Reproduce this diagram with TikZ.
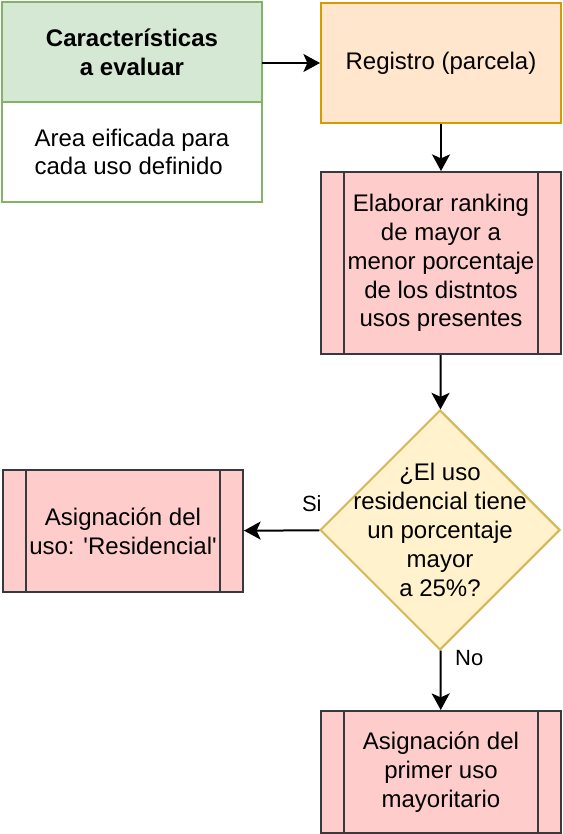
\documentclass[tikz,border=0pt]{standalone}
\usepackage{fontspec}
\setmainfont{Liberation Sans}
\usetikzlibrary{arrows.meta,shapes.geometric}
\definecolor{verdefondo}{HTML}{D5E8D4}
\definecolor{verdeborde}{HTML}{82B366}
\definecolor{naranjafondo}{HTML}{FFE6CC}
\definecolor{naranjaborde}{HTML}{D79B00}
\definecolor{rosafondo}{HTML}{FFCCCC}
\definecolor{grisborde}{HTML}{36393D}
\definecolor{amarillofondo}{HTML}{FFF2CC}
\definecolor{amarilloborde}{HTML}{D6B656}
\tikzset{
  caja/.style={draw,line width=1pt,inner sep=0pt,align=center,minimum width=120pt},
  cabecera/.style={caja,fill=verdefondo,draw=verdeborde,minimum width=130pt,minimum height=50pt,outer sep=0pt},
  cuerpo/.style={caja,fill=white,draw=verdeborde,minimum width=130pt,minimum height=50pt,outer sep=0pt,align=left},
  registro/.style={caja,fill=naranjafondo,draw=naranjaborde},
  proceso/.style={caja,fill=rosafondo,draw=grisborde},
  decision/.style={diamond,draw=amarilloborde,fill=amarillofondo,line width=1pt,
    minimum width=120pt,minimum height=120pt,aspect=1,inner sep=0pt},
  linea/.style={draw=grisborde,line width=1pt},
  flecha/.style={->,line width=1pt},
  etiqueta/.style={font=\fontsize{11}{13.2}\selectfont}
}
\begin{document}
\begin{tikzpicture}[x=1pt,y=-1pt,font=\fontsize{12}{14.4}\selectfont,
  >={Stealth[length=8.3pt,width=9pt,inset=2pt]}]
  \useasboundingbox (0,0) rectangle (281,417);
  % caracteristicas
  \node[cabecera,anchor=north west] (caract) at (1,1) {\textbf{Características}\\\textbf{a evaluar}};
  \node[cuerpo,anchor=north] (area) at (caract.south) {Area eificada para\\cada uso definido};
  % flujo
  \node[registro,minimum height=60pt,anchor=north west] (registro) at (160,1) {Registro (parcela)};
  \node[proceso,minimum height=91pt,anchor=north west] (ranking) at (160,85.5)
    {Elaborar ranking\\de mayor a\\menor porcentaje\\de los distntos\\usos presentes};
  \node[decision,label={[align=center]center:¿El uso\\residencial tiene\\un porcentaje\\mayor\\a 25\%?}] (pregunta) at (220,265) {};
  \node[proceso,minimum height=61pt,anchor=north west] (residencial) at (1,234.5)
    {Asignación del\\uso: \textquotesingle Residencial\textquotesingle};
  \node[proceso,minimum height=61pt,anchor=north west] (primero) at (160,355)
    {Asignación del\\primer uso\\mayoritario};
  \foreach \n in {ranking,residencial,primero} {
    \draw[linea] ([xshift=12pt]\n.north west) -- ([xshift=12pt]\n.south west);
    \draw[linea] ([xshift=-12pt]\n.north east) -- ([xshift=-12pt]\n.south east);
  }
  % conectores
  \draw[flecha] (registro.west -| caract.east) -- (registro.west);
  \draw[flecha] (registro) -- (ranking);
  \draw[flecha] (ranking) -- (pregunta);
  \draw[flecha] (pregunta) -- node[etiqueta,pos=0.1,above=5.5pt] {Si} (residencial);
  \draw[flecha] (pregunta) -- node[etiqueta,pos=0.13,right=3.5pt] {No} (primero);
\end{tikzpicture}
\end{document}
